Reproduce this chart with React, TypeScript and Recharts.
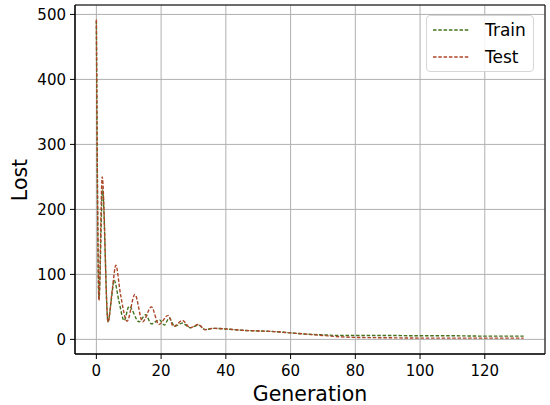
import React from 'react';
import { LineChart, Line, XAxis, YAxis, CartesianGrid, ReferenceArea } from 'recharts';

const testGen = [0, 0.8, 1.8, 3.6, 5, 6.0, 7.5, 9.5, 11.9, 14.3, 17, 19.3, 22.2, 23.8, 26.6, 29, 31.5, 33.6, 36, 40, 45, 50, 55, 60, 65, 70, 75, 80, 90, 100, 110, 120, 132];
const testLoss = [492, 60, 250, 27, 80, 114, 68, 28, 69, 27, 50, 23, 37, 20, 29, 18, 23, 15, 17, 16, 14, 13, 12, 10, 8, 6, 4, 3, 2.5, 2, 2, 2, 2];

const trainGen = [0, 0.8, 1.9, 3.6, 4.6, 5.5, 7, 8.6, 10.1, 13.2, 15.2, 17, 19.5, 21, 22.5, 24.2, 26.5, 29, 31.5, 33.6, 36, 40, 45, 50, 55, 60, 65, 70, 75, 80, 90, 100, 110, 120, 132];
const trainLoss = [490, 62, 230, 27, 60, 91, 58, 29, 51, 27, 38, 24, 30, 22, 33, 20, 25, 18, 22, 15, 17, 16, 14, 13, 12, 10, 8, 7, 6, 6, 6, 5.5, 5.5, 5, 5];

const xTicks = [0, 20, 40, 60, 80, 100, 120];
const yTicks = [0, 100, 200, 300, 400, 500];

const testData = testGen.map((g, i) => ({ gen: g, loss: testLoss[i] }));
const trainData = trainGen.map((g, i) => ({ gen: g, loss: trainLoss[i] }));

const X_DOMAIN: [number, number] = [-6.6, 138.6];
const Y_DOMAIN: [number, number] = [-22.5, 514.5];

const TRAIN_COLOR = '#44721c';
const TEST_COLOR = '#ad4628';
const FONT = 'DejaVu Sans, sans-serif';

const LegendBox = () => (
  <div
    style={{
      position: 'absolute',
      left: 426,
      top: 15,
      width: 108,
      height: 57,
      border: '1px solid #d6d6d6',
      borderRadius: 4,
      background: 'rgba(255,255,255,0.85)',
      boxSizing: 'border-box',
      fontFamily: FONT,
    }}
  >
    <svg width={106} height={55} style={{ display: 'block' }}>
      <line x1={6} x2={43} y1={14} y2={14} stroke={TRAIN_COLOR} strokeWidth={1.4} strokeDasharray="3.5 1.8" />
      <text x={58} y={20} fontSize={17} fill="#000">Train</text>
      <line x1={6} x2={43} y1={41} y2={41} stroke={TEST_COLOR} strokeWidth={1.4} strokeDasharray="3.5 1.8" />
      <text x={58} y={47} fontSize={17} fill="#000">Test</text>
    </svg>
  </div>
);

export default function App() {
  return (
    <div style={{ position: 'absolute', left: 0, top: 0, width: 550, height: 405, background: '#fff' }}>
      <LineChart width={550} height={405} margin={{ top: 5, right: 5, bottom: 0, left: 0 }}>
        <CartesianGrid stroke="#b0b0b0" strokeWidth={1} />
        <XAxis
          dataKey="gen"
          type="number"
          domain={X_DOMAIN}
          ticks={xTicks}
          allowDataOverflow
          height={51}
          tickSize={5}
          tickMargin={6}
          tick={{ fontSize: 15, fill: '#000', fontFamily: FONT }}
          tickLine={{ stroke: '#000' }}
          axisLine={{ stroke: '#000' }}
          label={{
            content: () => (
              <text x={310} y={401} textAnchor="middle" fontSize={20.5} fontFamily={FONT} fill="#000">
                Generation
              </text>
            ),
          }}
        />
        <YAxis
          type="number"
          domain={Y_DOMAIN}
          ticks={yTicks}
          allowDataOverflow
          width={75}
          tickSize={5}
          tickMargin={4}
          tick={{ fontSize: 15, fill: '#000', fontFamily: FONT }}
          tickLine={{ stroke: '#000' }}
          axisLine={{ stroke: '#000' }}
          label={{
            content: () => (
              <text x={27} y={180} transform="rotate(-90 27 180)" textAnchor="middle" fontSize={20.5} fontFamily={FONT} fill="#000">
                Lost
              </text>
            ),
          }}
        />
        <ReferenceArea x1={X_DOMAIN[0]} x2={X_DOMAIN[1]} y1={Y_DOMAIN[0]} y2={Y_DOMAIN[1]} fill="none" stroke="#000" strokeWidth={1} />
        <Line
          data={trainData}
          dataKey="loss"
          type="monotoneX"
          stroke={TRAIN_COLOR}
          strokeWidth={1.4}
          strokeDasharray="3.5 1.8"
          dot={false}
          isAnimationActive={false}
          name="Train"
        />
        <Line
          data={testData}
          dataKey="loss"
          type="monotoneX"
          stroke={TEST_COLOR}
          strokeWidth={1.4}
          strokeDasharray="3.5 1.8"
          dot={false}
          isAnimationActive={false}
          name="Test"
        />
      </LineChart>
      <LegendBox />
    </div>
  );
}
